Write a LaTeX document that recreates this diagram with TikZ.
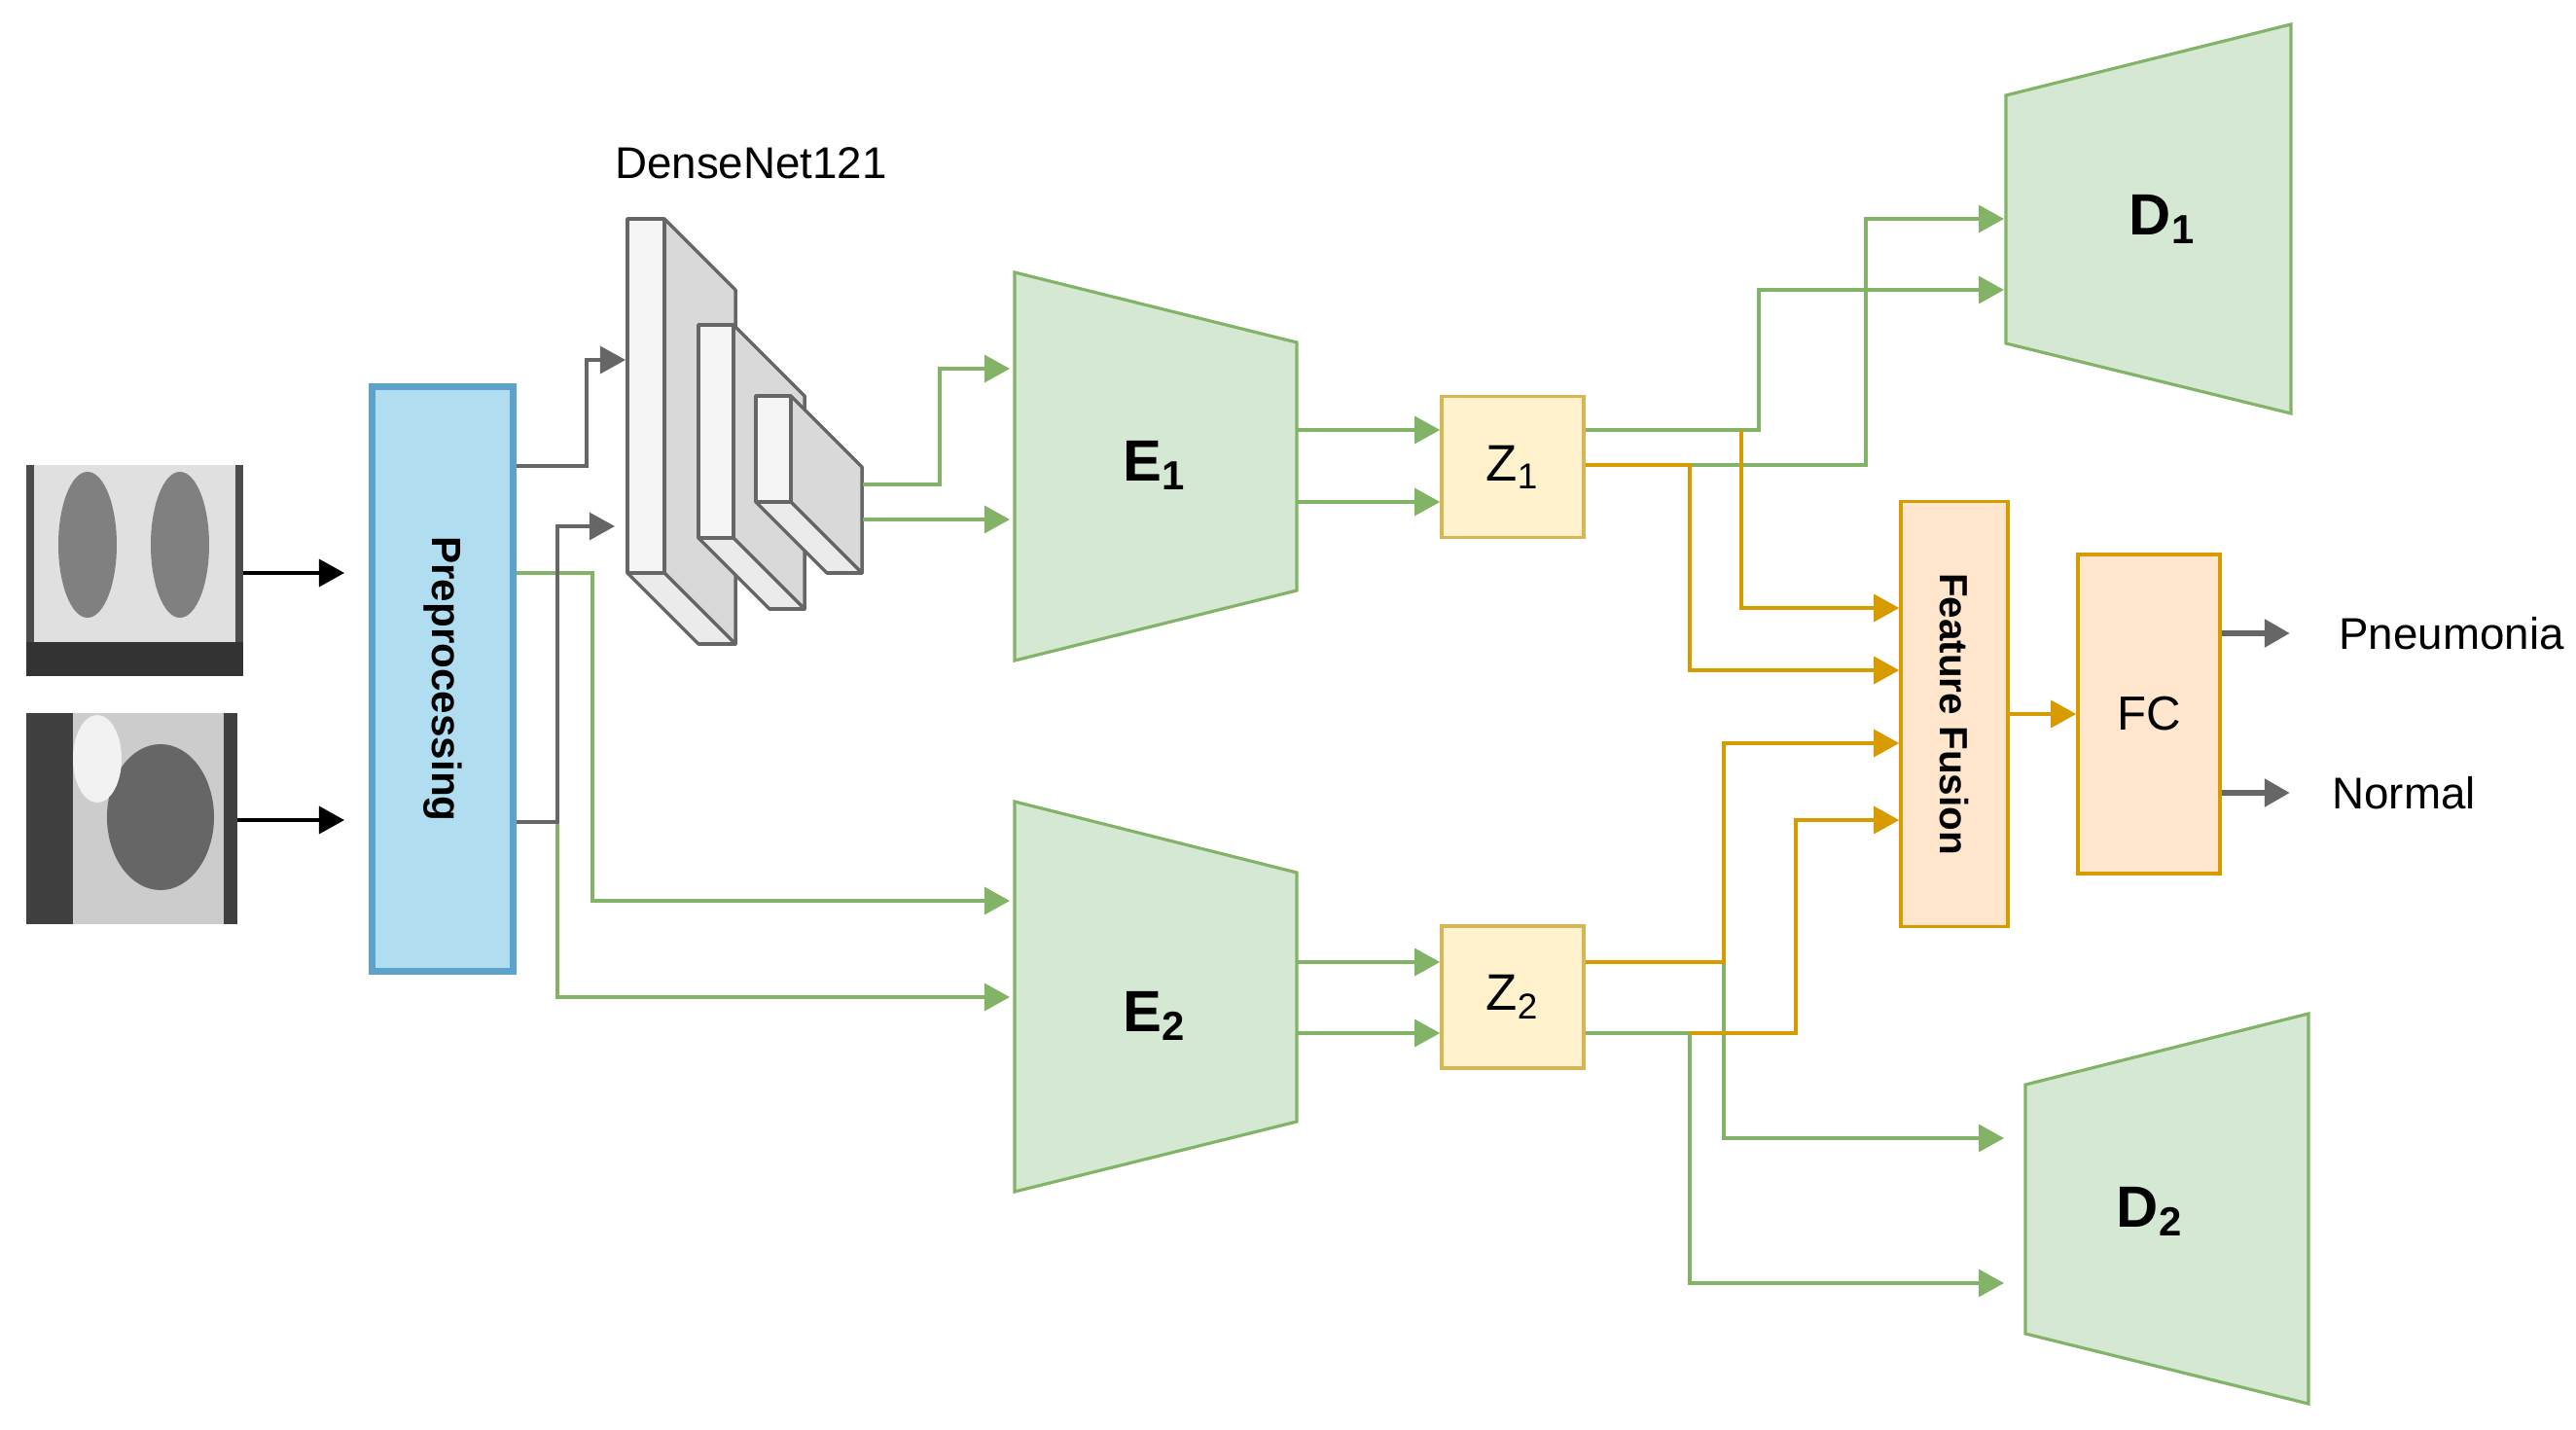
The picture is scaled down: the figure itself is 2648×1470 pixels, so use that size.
\documentclass[tikz,border=0pt]{standalone}
\usepackage{fontspec}
\setmainfont{Liberation Sans}
\usetikzlibrary{arrows.meta}

\definecolor{encfill}{HTML}{D5E8D4}
\definecolor{encline}{HTML}{82B366}
\definecolor{zfill}{HTML}{FFF2CC}
\definecolor{zline}{HTML}{D6B656}
\definecolor{fusefill}{HTML}{FFE6CC}
\definecolor{fuseline}{HTML}{D79B00}
\definecolor{prefill}{HTML}{B1DDF0}
\definecolor{preline}{HTML}{5DA3C9}
\definecolor{netline}{HTML}{666666}

\tikzset{
  tip/.style={-{Triangle[length=2.6mm,width=2.8mm]}},
  gline/.style={tip, encline, line width=0.9pt},
  oline/.style={tip, fuseline, line width=0.9pt},
  kline/.style={tip, netline, line width=0.9pt},
  trap/.style={draw=encline, fill=encfill, line width=0.9pt},
  layer/.style={draw=netline, line width=1pt, line join=round},
}

\begin{document}
\begin{tikzpicture}[x=0.01cm, y=-0.01cm]
\useasboundingbox (0,0) rectangle (2648,1470);

% input x-rays
\begin{scope}
\clip (27,478) rectangle (250,695);
\fill [black!70] (27,478) rectangle (250,695);
\fill [black!12] (35,478) rectangle (242,660);
\fill [black!50] (90,560) ellipse (30 and 75);
\fill [black!50] (185,560) ellipse (30 and 75);
\fill [black!80] (27,660) rectangle (250,695);
\end{scope}
\begin{scope}
\clip (27,733) rectangle (244,950);
\fill [black!75] (27,733) rectangle (244,950);
\fill [black!20] (75,733) rectangle (230,950);
\fill [black!60] (165,840) ellipse (55 and 75);
\fill [black!5] (100,780) ellipse (25 and 45);
\end{scope}
\coordinate (img1) at (250,589);
\coordinate (img2) at (244,843);

% blocks
\node [draw=preline, fill=prefill, line width=2pt, minimum width=1.45cm, minimum height=6cm, inner sep=0pt] (pre) at (455,698) {};
\node [rotate=-90, font=\bfseries\fontsize{12}{14}\selectfont] at (pre) {Preprocessing};

\node [font=\fontsize{13}{15}\selectfont] (dnet) at (772,168) {DenseNet121};
\foreach \xa/\xb/\ya/\yb in {645/683/225/589, 718/754/334/553, 777/813/407/516} {
  \draw [layer, fill=black!15] (\xb,\ya) -- (\xb+73,\ya+73) -- (\xb+73,\yb+73) -- (\xb,\yb) -- cycle;
  \draw [layer, fill=black!8] (\xa,\yb) -- (\xb,\yb) -- (\xb+73,\yb+73) -- (\xa+73,\yb+73) -- cycle;
  \draw [layer, fill=black!4] (\xa,\ya) rectangle (\xb,\yb);
}
\coordinate (dn1) at (643,370);
\coordinate (dn2) at (632,541);
\coordinate (dnout1) at (887,498);
\coordinate (dnout2) at (887,534);

\draw [trap] (1043,280) -- (1333,352) -- (1333,607) -- (1043,679) -- cycle;
\node [font=\bfseries\fontsize{17}{19}\selectfont] (enc1) at (1187,478) {E\textsubscript{1}};
\draw [trap] (1043,824) -- (1333,897) -- (1333,1153) -- (1043,1225) -- cycle;
\node [font=\bfseries\fontsize{17}{19}\selectfont] (enc2) at (1187,1044) {E\textsubscript{2}};
\draw [trap] (2062,98) -- (2355,25) -- (2355,425) -- (2062,353) -- cycle;
\node [font=\bfseries\fontsize{17}{19}\selectfont] (dec1) at (2223,225) {D\textsubscript{1}};
\draw [trap] (2082,1115) -- (2373,1042) -- (2373,1443) -- (2082,1371) -- cycle;
\node [font=\bfseries\fontsize{17}{19}\selectfont] (dec2) at (2210,1245) {D\textsubscript{2}};

\node [draw=zline, fill=zfill, line width=1pt, minimum width=1.46cm, minimum height=1.45cm, font=\fontsize{15}{17}\selectfont] (z1) at (1555,480) {Z\textsubscript{1}};
\node [draw=zline, fill=zfill, line width=1pt, minimum width=1.46cm, minimum height=1.46cm, font=\fontsize{15}{17}\selectfont] (z2) at (1555,1025) {Z\textsubscript{2}};
\node [draw=fuseline, fill=fusefill, line width=1pt, minimum width=1.1cm, minimum height=4.37cm] (fuse) at (2009,734) {};
\node [rotate=-90, font=\bfseries\fontsize{11.5}{13}\selectfont] at (fuse) {Feature Fusion};
\node [draw=fuseline, fill=fusefill, line width=1pt, minimum width=1.46cm, minimum height=3.28cm, font=\fontsize{14}{16}\selectfont] (fc) at (2209,734) {FC};
\node [anchor=west, font=\fontsize{13}{15}\selectfont] (pneu) at (2392,651) {Pneumonia};
\node [anchor=west, font=\fontsize{13}{15}\selectfont] (norm) at (2385,815) {Normal};

% inputs
\draw [tip, line width=1pt] (img1) -- ++(104,0);
\draw [tip, line width=1pt] (img2) -- ++(110,0);

% preprocessing to densenet and E2
\draw [kline] (pre.east |- 0,479) -| (603,370) -- (dn1);
\draw [gline] (pre.east |- 0,589) -| (609,926) -- (1038,926);
\draw [gline] (pre.east |- 0,845) -| (573,1025) -- (1038,1025);
\draw [kline] (pre.east |- 0,845) -| (573,541) -- (dn2);

% densenet to E1
\draw [gline] (dnout1) -| (966,379) -- (1038,379);
\draw [gline] (dnout2) -- (1038,534);

% encoders to latent
\draw [gline] (1333,442) -- (z1.west |- 0,442);
\draw [gline] (1333,516) -- (z1.west |- 0,516);
\draw [gline] (1333,989) -- (z2.west |- 0,989);
\draw [gline] (1333,1062) -- (z2.west |- 0,1062);

% latent to decoders
\draw [gline] (z1.east |- 0,442) -| (1808,298) -- (2060,298);
\draw [gline] (z1.east |- 0,478) -| (1918,225) -- (2060,225);
\draw [gline] (z2.east |- 0,989) -| (1772,1170) -- (2060,1170);
\draw [gline] (z2.east |- 0,1062) -| (1737,1319) -- (2060,1319);

% latent to fusion
\draw [oline] (1790,442) |- (fuse.west |- 0,625);
\draw [oline] (z1.east |- 0,478) -| (1737,689) -- (fuse.west |- 0,689);
\draw [oline] (z2.east |- 0,989) -| (1772,764) -- (fuse.west |- 0,764);
\draw [oline] (1737,1062) -| (1846,843) -- (fuse.west |- 0,843);

% classifier
\draw [oline] (fuse.east |- 0,734) -- (fc.west |- 0,734);
\draw [tip, netline, line width=1.6pt] (fc.east |- pneu) -- ++(70,0);
\draw [tip, netline, line width=1.6pt] (fc.east |- norm) -- ++(70,0);
\end{tikzpicture}
\end{document}
